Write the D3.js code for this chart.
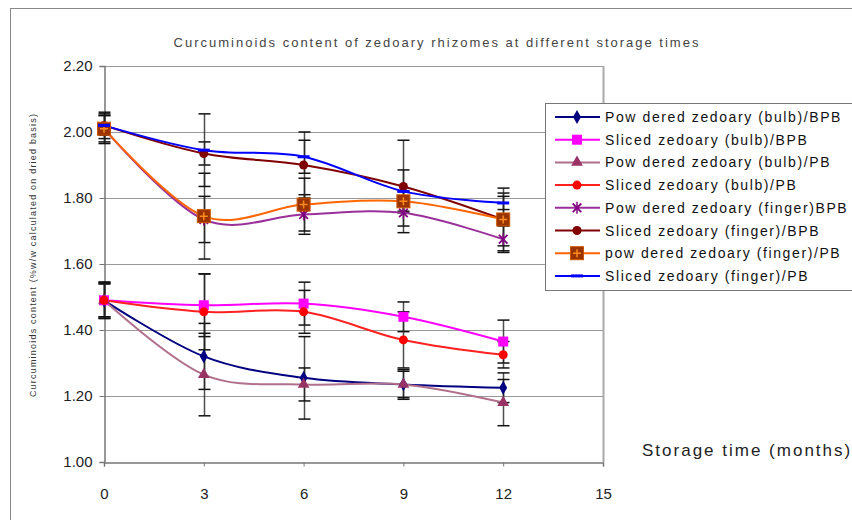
<!DOCTYPE html>
<html>
<head>
<meta charset="utf-8">
<script src="https://cdn.jsdelivr.net/npm/d3@7"></script>
<style>
  body { margin: 0; background: #fff; }
  text { font-family: Arial, "Liberation Sans", sans-serif; }
</style>
</head>
<body>
<div class="container"></div>
<script>
const WIDTH = 852;
const HEIGHT = 520;

var months = [0, 3, 6, 9, 12];
var xTicks = [0, 3, 6, 9, 12, 15];
var yTicks = [1.0, 1.2, 1.4, 1.6, 1.8, 2.0, 2.2];

var seriesNames = [
  "Pow dered zedoary (bulb)/BPB",
  "Sliced zedoary (bulb)/BPB",
  "Pow dered zedoary (bulb)/PB",
  "Sliced zedoary (bulb)/PB",
  "Pow dered zedoary (finger)BPB",
  "Sliced zedoary (finger)/BPB",
  "pow dered zedoary (finger)/PB",
  "Sliced zedoary (finger)/PB"
];

var powderedBulbBPB   = [1.49, 1.32, 1.255, 1.235, 1.225];
var slicedBulbBPB     = [1.49, 1.475, 1.48, 1.44, 1.365];
var powderedBulbPB    = [1.49, 1.265, 1.235, 1.235, 1.18];
var slicedBulbPB      = [1.49, 1.455, 1.455, 1.37, 1.325];
var powderedFingerBPB = [2.01, 1.735, 1.75, 1.755, 1.675];
var slicedFingerBPB   = [2.02, 1.935, 1.90, 1.835, 1.735];
var powderedFingerPB  = [2.01, 1.745, 1.78, 1.79, 1.735];
var slicedFingerPB    = [2.02, 1.945, 1.925, 1.82, 1.785];

// standard deviations (error bars)
var errPowderedBulbBPB   = [0.05, 0.10, 0.125, 0.045, 0.045];
var errSlicedBulbBPB     = [0.055, 0.095, 0.065, 0.045, 0.065];
var errPowderedBulbPB    = [0.05, 0.125, 0.05, 0.04, 0.07];
var errSlicedBulbPB      = [0.055, 0.115, 0.065, 0.085, 0.04];
var errPowderedFingerBPB = [0.04, 0.07, 0.06, 0.04, 0.04];
var errSlicedFingerBPB   = [0.04, 0.035, 0.10, 0.14, 0.08];
var errPowderedFingerPB  = [0.045, 0.13, 0.08, 0.03, 0.095];
var errSlicedFingerPB    = [0.03, 0.11, 0.05, 0.065, 0.02];

var seriesValues = [powderedBulbBPB, slicedBulbBPB, powderedBulbPB, slicedBulbPB,
  powderedFingerBPB, slicedFingerBPB, powderedFingerPB, slicedFingerPB];
var seriesErrors = [errPowderedBulbBPB, errSlicedBulbBPB, errPowderedBulbPB, errSlicedBulbPB,
  errPowderedFingerBPB, errSlicedFingerBPB, errPowderedFingerPB, errSlicedFingerPB];

var lineColors   = ["#000080", "#ff00ff", "#b0708c", "#ff2020", "#9a309a", "#800000", "#ff6600", "#0000ff"];
var markerColors = ["#000080", "#ff00ff", "#993366", "#ff0000", "#800080", "#800000", "#993300", "#0000ff"];
var markerShapes = ["diamond", "square", "triangle", "circle", "star", "circle", "bigsquare", "dash"];

var display = function () {

  var svg = d3.select('.container').append('svg')
    .attr('width', WIDTH)
    .attr('height', HEIGHT);

  var xScale = d3.scaleLinear().domain([0, 15]).range([104, 603]);
  var yScale = d3.scaleLinear().domain([1.0, 2.2]).range([462, 66]);

  // outer chart border
  svg.append('rect')
    .attr('x', 10.5).attr('y', 8.5)
    .attr('width', WIDTH + 20).attr('height', HEIGHT + 20)
    .attr('fill', 'none').attr('stroke', '#888').attr('stroke-width', 1);

  svg.append('text')
    .attr('x', 437).attr('y', 47)
    .attr('text-anchor', 'middle')
    .attr('font-size', '13px')
    .attr('letter-spacing', '2px')
    .attr('fill', '#444')
    .text('Curcuminoids content of zedoary rhizomes at different storage times');

  // gridlines
  svg.append('g').selectAll('line')
    .data(yTicks.slice(1))
    .enter().append('line')
    .attr('x1', xScale(0)).attr('x2', xScale(15))
    .attr('y1', function (d) { return Math.round(yScale(d)) + 0.5; })
    .attr('y2', function (d) { return Math.round(yScale(d)) + 0.5; })
    .attr('stroke', '#999').attr('stroke-width', 1);

  // right border of plot area
  svg.append('line')
    .attr('x1', xScale(15) + 0.5).attr('x2', xScale(15) + 0.5)
    .attr('y1', yScale(2.2)).attr('y2', yScale(1.0))
    .attr('stroke', '#aaa').attr('stroke-width', 2);

  var xAxis = d3.axisBottom(xScale).tickValues(xTicks).tickSize(4).tickPadding(22)
    .tickFormat(d3.format('d'));
  var yAxis = d3.axisLeft(yScale).tickValues(yTicks).tickSize(5).tickPadding(7)
    .tickFormat(d3.format('.2f'));

  var gx = svg.append('g')
    .attr('transform', 'translate(0,' + (yScale(1.0) + 0.5) + ')')
    .call(xAxis);
  var gy = svg.append('g')
    .attr('transform', 'translate(' + (xScale(0) + 0.5) + ',0)')
    .call(yAxis);

  [gx, gy].forEach(function (g) {
    g.selectAll('.domain').attr('stroke', '#777').attr('stroke-width', 1.5);
    g.selectAll('.tick line').attr('stroke', '#777');
    g.selectAll('.tick text').attr('font-size', '15px').attr('fill', '#222')
      .attr('font-family', 'Arial, "Liberation Sans", sans-serif');
  });

  svg.append('text')
    .attr('transform', 'translate(36,255) rotate(-90)')
    .attr('text-anchor', 'middle')
    .attr('font-size', '9px')
    .attr('letter-spacing', '1.2px')
    .attr('fill', '#333')
    .text('Curcuminoids content (%w/w calculated on dried basis)');

  svg.append('text')
    .attr('x', 642).attr('y', 456)
    .attr('font-size', '17px')
    .attr('letter-spacing', '2px')
    .attr('fill', '#222')
    .text('Storage time (months)');

  var line = d3.line()
    .x(function (d, i) { return xScale(months[i]); })
    .y(function (d) { return yScale(d); })
    .curve(d3.curveCardinal.tension(0));

  // error bars
  var errGroup = svg.append('g');
  seriesValues.forEach(function (vals, s) {
    vals.forEach(function (v, i) {
      var e = seriesErrors[s][i];
      var x = Math.round(xScale(months[i])) + 0.5;
      var y1 = yScale(v + e), y2 = yScale(v - e);
      errGroup.append('line').attr('x1', x).attr('x2', x).attr('y1', y1).attr('y2', y2)
        .attr('stroke', '#222').attr('stroke-width', 1.5).attr('stroke-opacity', 0.8);
      [y1, y2].forEach(function (yy) {
        errGroup.append('line').attr('x1', x - 6).attr('x2', x + 6).attr('y1', yy).attr('y2', yy)
          .attr('stroke', '#111').attr('stroke-width', 1.5);
      });
    });
  });

  var drawMarker = function (g, shape, cx, cy, color) {
    if (shape === 'diamond') {
      g.append('path').attr('d', d3.symbol(d3.symbolDiamond, 55)())
        .attr('transform', 'translate(' + cx + ',' + cy + ')').attr('fill', color);
    } else if (shape === 'square') {
      g.append('rect').attr('x', cx - 5).attr('y', cy - 5).attr('width', 10).attr('height', 10)
        .attr('fill', color);
    } else if (shape === 'triangle') {
      g.append('path').attr('d', d3.symbol(d3.symbolTriangle, 60)())
        .attr('transform', 'translate(' + cx + ',' + cy + ')').attr('fill', color);
    } else if (shape === 'circle') {
      g.append('circle').attr('cx', cx).attr('cy', cy).attr('r', 4.5).attr('fill', color);
    } else if (shape === 'star') {
      g.append('path').attr('d', d3.symbol(d3.symbolTimes, 50)())
        .attr('transform', 'translate(' + cx + ',' + cy + ')')
        .attr('stroke', color).attr('stroke-width', 1.8).attr('fill', 'none');
      g.append('line').attr('x1', cx).attr('x2', cx).attr('y1', cy - 6).attr('y2', cy + 6)
        .attr('stroke', color).attr('stroke-width', 1.5);
    } else if (shape === 'bigsquare') {
      g.append('rect').attr('x', cx - 6.5).attr('y', cy - 6.5).attr('width', 13).attr('height', 13)
        .attr('fill', color).attr('stroke', '#cc5500').attr('stroke-width', 1);
      g.append('path').attr('d', 'M' + (cx - 4) + ',' + cy + 'H' + (cx + 4) + 'M' + cx + ',' + (cy - 4) + 'V' + (cy + 4))
        .attr('stroke', '#ff8a20').attr('stroke-width', 1.5);
    } else if (shape === 'dash') {
      g.append('rect').attr('x', cx - 6).attr('y', cy - 1.5).attr('width', 12).attr('height', 3)
        .attr('fill', color);
    }
  };

  var seriesGroup = svg.append('g');
  seriesValues.forEach(function (vals, s) {
    seriesGroup.append('path')
      .datum(vals)
      .attr('d', line)
      .attr('fill', 'none')
      .attr('stroke', lineColors[s])
      .attr('stroke-width', 2);
  });
  seriesValues.forEach(function (vals, s) {
    vals.forEach(function (v, i) {
      drawMarker(seriesGroup, markerShapes[s], xScale(months[i]), yScale(v), markerColors[s]);
    });
  });

  // legend
  var legend = svg.append('g');
  legend.append('rect')
    .attr('x', 545.5).attr('y', 103.5).attr('width', 330).attr('height', 187)
    .attr('fill', '#fff').attr('stroke', '#777').attr('stroke-width', 1);

  seriesNames.forEach(function (name, s) {
    var yy = 117 + s * 22.7;
    legend.append('line').attr('x1', 555).attr('x2', 600).attr('y1', yy).attr('y2', yy)
      .attr('stroke', lineColors[s]).attr('stroke-width', 2);
    drawMarker(legend, markerShapes[s], 577, yy, markerColors[s]);
    legend.append('text')
      .attr('x', 605).attr('y', yy + 5)
      .attr('font-size', '14px')
      .attr('letter-spacing', '1.6px')
      .attr('fill', '#111')
      .text(name);
  });
};

window.onload = display;
</script>
</body>
</html>
